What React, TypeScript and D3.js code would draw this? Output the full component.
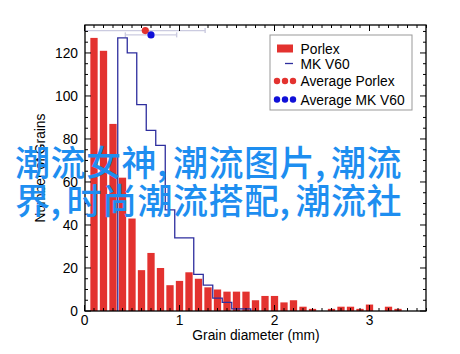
import React from "react";
import * as d3 from "d3";

const binCenters = [0.1, 0.2, 0.3, 0.4, 0.5, 0.6, 0.7, 0.8, 0.9, 1.0, 1.1, 1.2, 1.3, 1.4, 1.5, 1.6, 1.7, 1.8, 1.9, 2.0, 2.1, 2.2, 2.3, 2.4, 2.5, 2.6, 2.7, 2.8, 2.9, 3.0, 3.1, 3.2, 3.3];
const porlexCounts = [127, 121, 87, 62, 43, 19, 27, 20, 12, 14, 18, 15, 11, 10, 9, 9, 9, 5, 7, 7, 4, 5, 2, 1, 0, 1, 2, 2, 1, 3, 0, 2, 1];
const mkBinCenters = [0.4, 0.5, 0.6, 0.7, 0.8, 0.9, 1.0, 1.1, 1.2, 1.3, 1.4, 1.5, 1.6, 1.7];
const mkCounts = [127, 120, 96, 84, 77, 47, 34, 34, 17, 12, 6, 4, 1, 1];
const averageMeans = [0.64, 0.7];
const averageErrors = [0.63, 0.27];
const averageLevels = [130.4, 128.4];
const xTicks = [0, 1, 2, 3];
const yTicks = [0, 20, 40, 60, 80, 100, 120];
const legendLabels = ["Porlex", "MK V60", "Average Porlex", "Average MK V60"];
const overlayLines = ["潮流女神,潮流图片,潮流", "界,时尚潮流搭配,潮流社"];

const RED = "#e3322f";
const BLUE_LINE = "#2e2e9e";
const BLUE_DOT = "#1010d8";
const ERR = "#cbcbe0";
const FONT = "'Liberation Sans', Arial, Helvetica, sans-serif";

export default function App() {
  const L = 85, R = 426, T = 25, B = 311;
  const x = d3.scaleLinear().domain([0, 3.6]).range([84.5, 426.5]);
  const y = d3.scaleLinear().domain([0, 133]).range([B, T]);
  const bw = x(0.1) - x(0);

  const stepPts: [number, number][] = [[mkBinCenters[0] - 0.05, 0]];
  mkBinCenters.forEach((c, i) => {
    stepPts.push([c - 0.05, mkCounts[i]]);
    stepPts.push([c + 0.05, mkCounts[i]]);
  });
  stepPts.push([mkBinCenters[mkBinCenters.length - 1] + 0.05, 0]);
  const stepLine = d3.line<[number, number]>().x((d) => x(d[0])).y((d) => y(d[1]));

  const xMinor = d3.range(0, 36.5, 1).map((v) => v / 10);
  const yMinor = d3.range(0, 134, 5);

  const cjkPos = (s: string, x0: number) => {
    const pos: number[] = [];
    let cx = x0;
    for (const ch of Array.from(s)) {
      pos.push(cx);
      cx += ch === "," ? 16 : 35.5;
    }
    return pos.join(" ");
  };

  const legendY = [48.5, 63.5, 81, 99.5];
  const legendColors = [RED, BLUE_LINE, RED, BLUE_DOT];

  return (
    <svg width={460} height={354} style={{ position: "absolute", left: 0, top: 0, background: "#fff" }}>
      <rect x={0} y={0} width={460} height={354} fill="#fff" />
      {/* error bars */}
      {averageMeans.map((m, i) => (
        <g key={"e" + i} stroke={ERR} strokeWidth={1.4}>
          <line x1={x(Math.max(0, m - averageErrors[i]))} x2={x(m + averageErrors[i])} y1={y(averageLevels[i])} y2={y(averageLevels[i])} />
          {m - averageErrors[i] > 0.02 && (
            <line x1={x(m - averageErrors[i])} x2={x(m - averageErrors[i])} y1={y(averageLevels[i]) - 2.5} y2={y(averageLevels[i]) + 2.5} />
          )}
          <line x1={x(m + averageErrors[i])} x2={x(m + averageErrors[i])} y1={y(averageLevels[i]) - 2.5} y2={y(averageLevels[i]) + 2.5} />
        </g>
      ))}
      {/* bars */}
      {binCenters.map((c, i) =>
        porlexCounts[i] > 0 ? (
          <rect key={"b" + i} x={x(c - 0.05) + 1.1} width={bw - 2.2} y={y(porlexCounts[i])} height={B - y(porlexCounts[i])} fill={RED} />
        ) : null
      )}
      <path d={stepLine(stepPts) || ""} fill="none" stroke={BLUE_LINE} strokeWidth={1.3} />
      {/* average dots */}
      {averageMeans.map((m, i) => (
        <circle key={"d" + i} cx={x(m)} cy={y(averageLevels[i])} r={3.6} fill={i === 0 ? RED : BLUE_DOT} />
      ))}
      {/* frame */}
      <rect x={L} y={T} width={R - L} height={B - T} fill="none" stroke="#000" strokeWidth={1.3} />
      {/* x ticks */}
      {xMinor.map((v, i) => {
        const major = Math.abs(v - Math.round(v)) < 1e-6;
        const len = major ? 6 : 3;
        return (
          <g key={"xt" + i} stroke="#000" strokeWidth={1}>
            <line x1={x(v)} x2={x(v)} y1={B} y2={B - len} />
            <line x1={x(v)} x2={x(v)} y1={T} y2={T + len} />
          </g>
        );
      })}
      {yMinor.map((v, i) => {
        const major = v % 20 === 0;
        const len = major ? 6 : 3;
        return (
          <g key={"yt" + i} stroke="#000" strokeWidth={1}>
            <line x1={L} x2={L + len} y1={y(v)} y2={y(v)} />
            <line x1={R} x2={R - len} y1={y(v)} y2={y(v)} />
          </g>
        );
      })}
      {xTicks.map((v) => (
        <text key={"xl" + v} x={x(v)} y={325} textAnchor="middle" fontFamily={FONT} fontSize={13.8} fill="#000">
          {v}
        </text>
      ))}
      {yTicks.map((v) => (
        <text key={"yl" + v} x={78} y={y(v) + 5} textAnchor="end" fontFamily={FONT} fontSize={13.8} fill="#000">
          {v}
        </text>
      ))}
      <text x={256} y={340} textAnchor="middle" fontFamily={FONT} fontSize={13.8} fill="#000">
        Grain diameter (mm)
      </text>
      <text transform="translate(45,168) rotate(-90)" textAnchor="middle" fontFamily={FONT} fontSize={13.8} fill="#000">
        Number of Grains
      </text>
      {/* legend */}
      <rect x={270} y={35} width={142} height={75} fill="#fff" stroke="#999" strokeWidth={1} />
      <rect x={277} y={44.5} width={16} height={8} fill={RED} />
      <line x1={285} x2={293} y1={legendY[1]} y2={legendY[1]} stroke={BLUE_LINE} strokeWidth={1.3} />
      {[2, 3].map((k) =>
        [277, 285, 293].map((cx) => (
          <circle key={"lc" + k + cx} cx={cx} cy={legendY[k]} r={3.2} fill={legendColors[k]} />
        ))
      )}
      {legendLabels.map((t, i) => (
        <text key={"lg" + i} x={300.5} y={legendY[i] + 5} fontFamily={FONT} fontSize={13.8} fill="#000">
          {t}
        </text>
      ))}
      {/* overlay */}
      {overlayLines.map((t, i) => (
        <text key={"ov" + i} x={cjkPos(t, 15)} y={176 + i * 38} fontFamily="'Noto Sans CJK SC', sans-serif" fontSize={35} fontWeight={500} fill="#1e8ef0">
          {t}
        </text>
      ))}
    </svg>
  );
}
